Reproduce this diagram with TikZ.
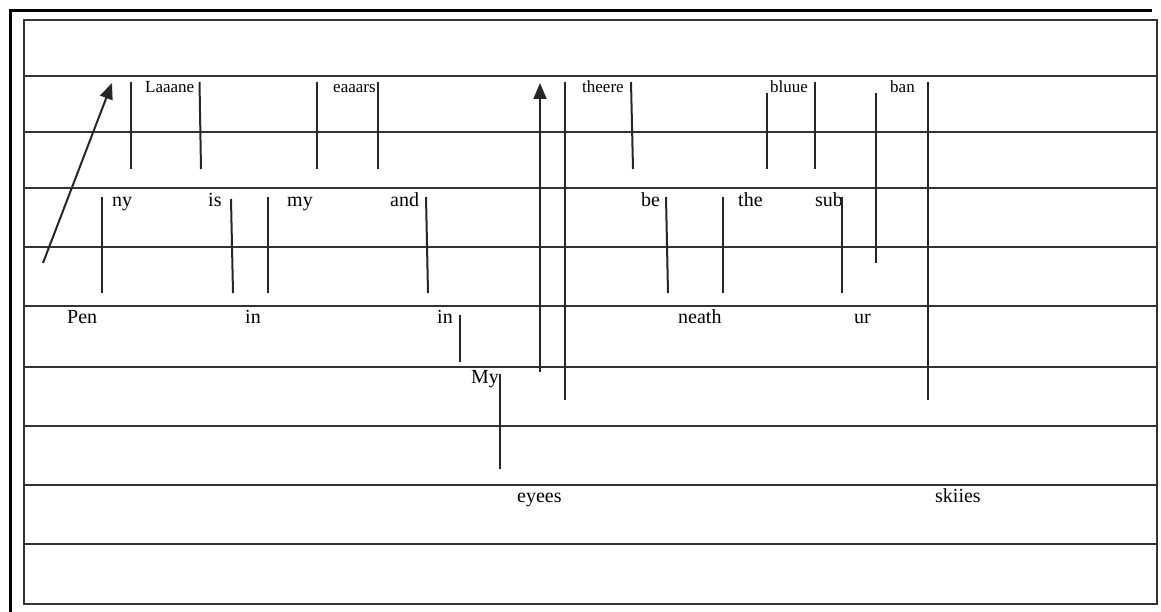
\documentclass[tikz,border=0pt]{standalone}
\usepackage{fontspec}
\setmainfont{Liberation Serif}
\usetikzlibrary{arrows.meta}
\tikzset{
  word/.style  ={anchor=base west,inner sep=0pt,font=\fontsize{20}{24}\selectfont},
  sword/.style ={anchor=base west,inner sep=0pt,font=\fontsize{17}{20}\selectfont},
  rule/.style  ={line width=1.3pt,black!80},
  stem/.style  ={line width=2pt,black!85},
  ar/.style    ={stem,-{Triangle[length=16pt,width=13pt]}},
  frame/.style ={line width=3pt},
}
\begin{document}
\begin{tikzpicture}[x=1pt,y=-1pt]
  \useasboundingbox (0,0) rectangle (1161,612);
  \draw[frame] (10,612) -- (10,11) -- (1152,11);
  \draw[rule] (24,20) rectangle (1157,604);
  \foreach \y in {76,132,188,247,306,367,426,485,544}
    \draw[rule] (24,\y) -- (1157,\y);
  % first row
  \node[sword] (laaane) at (145,93) {Laaane};
  \node[sword] (eaaars) at (333,93) {eaaars};
  \node[sword] (theere) at (582,93) {theere};
  \node[sword] (bluue)  at (770,93) {bluue};
  \node[sword] (ban)    at (890,93) {ban};
  % second row
  \node[word] (ny)  at (112,207) {ny};
  \node[word] (is)  at (208,207) {is};
  \node[word] (my)  at (287,207) {my};
  \node[word] (and) at (390,207) {and};
  \node[word] (be)  at (641,207) {be};
  \node[word] (the) at (738,207) {the};
  \node[word] (sub) at (815,207) {sub};
  % third row
  \node[word] (pen)   at (67,323)  {Pen};
  \node[word] (ina)   at (245,323) {in};
  \node[word] (inb)   at (437,323) {in};
  \node[word] (neath) at (678,323) {neath};
  \node[word] (ur)    at (854,323) {ur};
  \node[word] (myb)   at (471,383) {My};
  \node[word] (eyees)  at (517,502) {eyees};
  \node[word] (skiies) at (935,502) {skiies};
  % stems
  \foreach \xa/\ya/\xb/\yb in {131/82/131/169, 199.5/82/201/169, 317/82/317/169,
      378/82/378/169, 102/197/102/293, 231/199/233/293, 268/197/268/293,
      426/197/428/293, 460/315/460/362, 500/374/500/469, 565/82/565/400,
      631/82/633/169, 666/197/668/293, 723/197/723/293, 767/93/767/169,
      815/82/815/169, 842/197/842/293, 876/93/876/263, 928/82/928/400}
    \draw[stem] (\xa,\ya) -- (\xb,\yb);
  \draw[ar] (43,263) -- (112,83);
  \draw[ar] (540,372) -- (540,83);
\end{tikzpicture}
\end{document}
